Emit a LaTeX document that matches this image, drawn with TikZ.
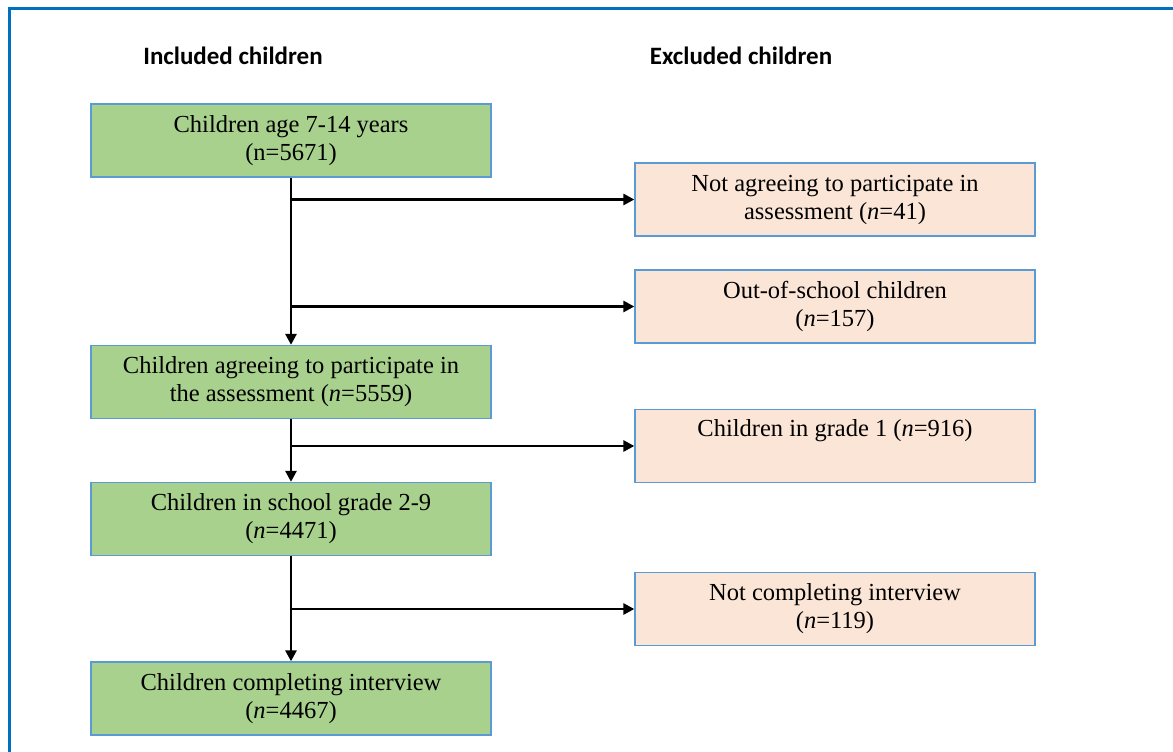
\documentclass[tikz,border=0pt]{standalone}
\usepackage{fontspec}
\setmainfont{Liberation Serif}
\newfontfamily\headfont{Carlito}
\usetikzlibrary{arrows.meta}

\definecolor{incgreen}{HTML}{A9D18E}
\definecolor{excpink}{HTML}{FBE5D6}
\definecolor{boxblue}{HTML}{5B9BD5}
\definecolor{frameblue}{HTML}{0070C0}

\begin{document}
\begin{tikzpicture}[x=1pt,y=-1pt,
  flowbox/.style={draw=boxblue, line width=1.3pt, minimum width=400pt,
    minimum height=73pt, align=center, inner sep=0pt,
    font=\fontsize{24.5}{28}\selectfont},
  incbox/.style={flowbox, fill=incgreen},
  excbox/.style={flowbox, fill=excpink},
  head/.style={font=\headfont\bfseries\fontsize{25}{28}\selectfont},
  link/.style={line width=2.7pt, -{Triangle[length=11pt,width=11pt]}}]

% page area and outer frame
\useasboundingbox (0,0) rectangle (1173,752);
\fill[white] (0,0) rectangle (1173,752);
\draw[frameblue, line width=3pt] (9.5,800) -- (9.5,8.5) -- (1220,8.5);

% column headings
\node[head] (hin) at (233,56) {Included children};
\node[head] (hex) at (741,56) {Excluded children};

% included children
\node[incbox] (i1) at (291,140.5) {Children age 7-14 years\\(n=5671)};
\node[incbox] (i2) at (291,382) {Children agreeing to participate in\\the assessment (\textit{n}=5559)};
\node[incbox] (i3) at (291,519) {Children in school grade 2-9\\(\textit{n}=4471)};
\node[incbox] (i4) at (291,698.5) {Children completing interview\\(\textit{n}=4467)};

% excluded children
\node[excbox] (e1) at (835,199.5) {Not agreeing to participate in\\assessment (\textit{n}=41)};
\node[excbox] (e2) at (835,306.5) {Out-of-school children\\(\textit{n}=157)};
\node[excbox] (e3) at (835,446) {Children in grade 1 (\textit{n}=916)\\\strut};
\node[excbox] (e4) at (835,609) {Not completing interview\\(\textit{n}=119)};

% main flow
\draw[link] (i1.south) -- (i2.north);
\draw[link] (i2.south) -- (i3.north);
\draw[link] (i3.south) -- (i4.north);

% exclusions branching off the main flow
\draw[link] (i1.south |- e1.west) -- (e1.west);
\draw[link] (i1.south |- e2.west) -- (e2.west);
\draw[link] (i2.south |- e3.west) -- (e3.west);
\draw[link] (i3.south |- e4.west) -- (e4.west);
\end{tikzpicture}
\end{document}
